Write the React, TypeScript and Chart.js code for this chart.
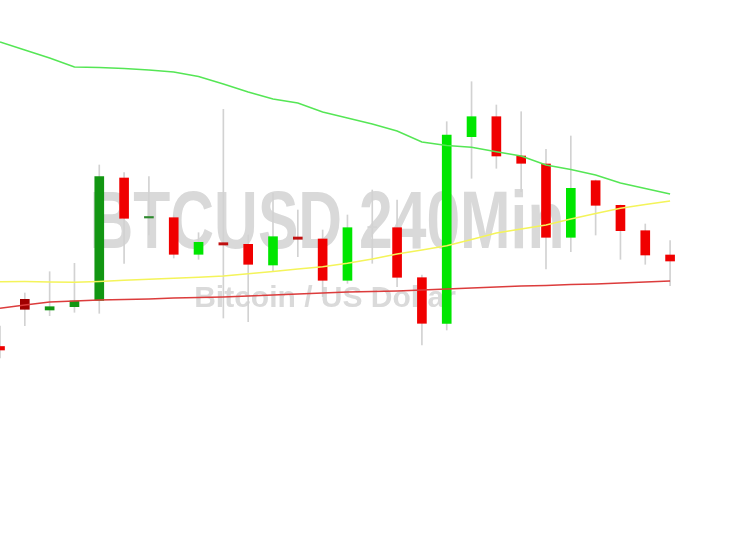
import React, { useEffect, useRef } from "react";
import { Chart, registerables } from "chart.js";
Chart.register(...registerables);

// Candle data (price units)
const opens = [189.5, 236.7, 226, 229.3, 235.7, 358, 318, 318.3, 281.7, 293.3, 291.7, 271, 299, 297, 255.7, 308.3, 308.3, 258.3, 212.7, 399.3, 419.3, 380, 372, 298.7, 355.3, 330.7, 305.3, 281];
const highs = [210, 243, 264.3, 272.7, 371, 363.3, 359.3, 321, 303.3, 426.7, 301, 343, 326, 306, 321, 346, 336, 261, 414.3, 454.3, 431, 424.3, 386.7, 400, 356, 331, 312, 295.3];
const lows = [178, 210.3, 220.3, 223.7, 222.7, 272.7, 301, 278, 276.7, 218, 214.3, 264.3, 279.3, 239.3, 252.7, 272.7, 249.3, 191, 206, 357.7, 367.7, 344.3, 267, 284.3, 301, 276.7, 271.7, 250.3];
const closes = [186, 226.7, 229.3, 235, 359.3, 317.7, 319.5, 281.7, 293.7, 291, 271.7, 299.3, 296.7, 255.7, 308.3, 309.5, 258.7, 212.7, 401, 419.3, 380, 372.7, 298.7, 347.7, 330.7, 305.3, 281, 275];
const candleColors = [
  "#ee0000", "#a00000", "#129612", "#129612", "#129612", "#f00000", "#2e8a2e", "#f00000",
  "#00e600", "#c01010", "#f00000", "#00e600", "#c01010", "#f00000", "#00e600", "#d4d4d4",
  "#f00000", "#f00000", "#00e600", "#00e600", "#f00000", "#f00000", "#f00000", "#00e600",
  "#f00000", "#f00000", "#f00000", "#f00000",
];

// Moving averages
const maSlow = [494, 486, 478, 469, 468.5, 467.5, 466, 464, 459.5, 452, 444, 437, 433, 424, 418, 412, 405, 394, 390.5, 388.7, 384.3, 380, 371, 366.5, 361, 353, 347.5, 342];
const maMid = [254.3, 254.4, 254.1, 253.8, 254.6, 255.8, 256.8, 257.8, 258.8, 260, 262.3, 264.5, 267, 269.3, 272.7, 277, 282, 286, 290.3, 296.5, 303, 307, 311, 317, 322.5, 327.7, 331.5, 335];
const maLong = [227.7, 231, 234, 235, 236, 236.5, 237, 238, 238.5, 239, 240, 241, 242, 243, 244, 244.5, 245, 246, 247, 248, 249, 250, 250.5, 251.5, 252, 253, 254, 255];

const titleText = "BTCUSD 240Min";
const subtitleText = "Bitcoin / US Dollar";

const watermark = {
  id: "watermark",
  beforeDatasetsDraw(chart: any) {
    const ctx = chart.ctx;
    ctx.save();
    ctx.fillStyle = "#d9d9d9";
    ctx.textAlign = "center";
    ctx.textBaseline = "alphabetic";
    ctx.font = "bold 81px 'Liberation Sans', Arial, sans-serif";
    const w = ctx.measureText(titleText).width;
    const sx = 475 / w;
    ctx.translate(327, 248);
    ctx.scale(sx, 1);
    ctx.fillText(titleText, 0, 0);
    ctx.restore();
    ctx.save();
    ctx.fillStyle = "#dadada";
    ctx.textAlign = "center";
    ctx.textBaseline = "alphabetic";
    ctx.font = "bold 30px 'Liberation Sans', Arial, sans-serif";
    ctx.fillText(subtitleText, 325, 307);
    ctx.restore();
  },
};

export default function App() {
  const ref = useRef<HTMLCanvasElement>(null);
  useEffect(() => {
    if (!ref.current) return;
    const idx = opens.map((_, i) => i);
    const chart = new Chart(ref.current, {
      type: "bar",
      data: {
        datasets: [
          {
            type: "line",
            data: idx.map((i) => ({ x: i, y: maSlow[i] })),
            borderColor: "#55e655",
            borderWidth: 1.5,
            pointRadius: 0,
            order: -1,
          } as any,
          {
            type: "line",
            data: idx.map((i) => ({ x: i, y: maMid[i] })),
            borderColor: "#f4f45a",
            borderWidth: 1.5,
            pointRadius: 0,
            order: -1,
          } as any,
          {
            type: "line",
            data: idx.map((i) => ({ x: i, y: maLong[i] })),
            borderColor: "#dc3c3c",
            borderWidth: 1.5,
            pointRadius: 0,
            order: -1,
          } as any,
          {
            data: idx.map((i) => ({ x: i, y: [opens[i], closes[i]] })),
            backgroundColor: candleColors,
            borderWidth: 0,
            barThickness: 9,
            grouped: false,
            order: 0,
          } as any,
          {
            data: idx.map((i) => ({ x: i, y: [lows[i], highs[i]] })),
            backgroundColor: "#d2d2d2",
            borderWidth: 0,
            barThickness: 1,
            grouped: false,
            order: 1,
          } as any,
        ],
      },
      options: {
        animation: false,
        responsive: false,
        layout: { padding: 0 },
        plugins: { legend: { display: false }, tooltip: { enabled: false } },
        scales: {
          x: { type: "linear", display: false, offset: false, min: 0, max: 30.22 },
          y: { display: false, min: 0, max: 536 },
        },
      } as any,
      plugins: [watermark],
    });
    return () => chart.destroy();
  }, []);
  return (
    <div style={{ position: "fixed", left: 0, top: 0, width: 750, height: 536, background: "#fff" }}>
      <canvas ref={ref} width={750} height={536} />
    </div>
  );
}
